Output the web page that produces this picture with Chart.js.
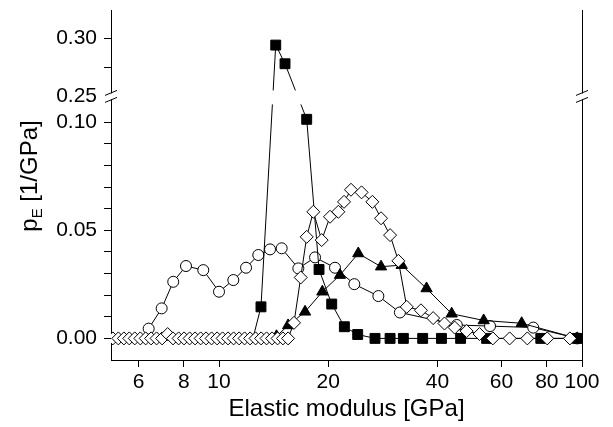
<!DOCTYPE html>
<html>
<head>
<meta charset="utf-8">
<script src="https://cdn.jsdelivr.net/npm/chart.js@4.4.0/dist/chart.umd.min.js"></script>
<style>
  html, body { margin: 0; padding: 0; background: #fff; }
  #wrap { width: 613px; height: 427px; }
</style>
</head>
<body>
<div id="wrap"><canvas id="chart"></canvas></div>
<script>
/* ---------- Data ---------- */
const xTickValues = [6, 8, 10, 20, 40, 60, 80, 100];
const yTickValues = [0, 0.01, 0.02, 0.03, 0.04, 0.05, 0.06, 0.07, 0.08, 0.09, 0.10, 0.25, 0.275, 0.30];
const yTickText   = ["0.00", "", "", "", "", "0.05", "", "", "", "", "0.10", "0.25", "", "0.30"];

// filled squares
const squareE = [12.4, 13.05, 14.33, 15.2, 17.44, 18.86, 20.44, 22.15, 24.1, 26.9, 29.6, 32.2, 36.4, 41.0, 46.3, 54.6, 77.0, 97.0];
const squareP = [0, 0.0146, 0.294, 0.278, 0.1014, 0.0319, 0.0159, 0.0054, 0.0018, 0, 0, 0, 0, 0, 0, 0, 0, 0];

// open circles
const circleE = [6.4, 6.95, 7.48, 8.11, 9.05, 10.0, 10.95, 11.87, 12.83, 13.82, 14.88, 16.54, 18.39, 20.87, 23.59, 27.48, 31.5, 45.2, 55.8, 73.4, 97.0];
const circleP = [0.0045, 0.0139, 0.0262, 0.0335, 0.0316, 0.0216, 0.027, 0.0327, 0.0386, 0.0412, 0.0417, 0.0324, 0.0375, 0.0327, 0.0251, 0.0196, 0.012, 0.0062, 0.0057, 0.005, 0];

// open diamonds
const diamondE = [5.1, 5.28, 5.47, 5.66, 5.86, 6.07, 6.28, 6.5, 6.73, 6.97, 7.22, 7.47, 7.74, 8.01, 8.3, 8.59, 8.9, 9.21, 9.54, 9.88,
                  10.23, 10.59, 10.97, 11.36, 11.76, 12.18, 12.61, 13.06, 13.52, 14.0, 14.5, 15.0, 15.5,
                  16.09, 16.79, 17.44, 18.19, 19.18, 20.22, 21.32, 22.1, 23.1, 24.7, 26.45, 27.95, 29.6, 31.2, 32.9,
                  36.0, 38.9, 41.8, 44.6, 48.1, 52.2, 56.8, 63.2, 70.7, 80.2, 92.6];
const diamondP = [0, 0, 0, 0, 0, 0, 0, 0, 0, 0, 0.002, 0, 0, 0, 0, 0, 0, 0, 0, 0,
                  0, 0, 0, 0, 0, 0, 0, 0, 0, 0, 0, 0, 0,
                  0.0072, 0.0282, 0.047, 0.0586, 0.0455, 0.0563, 0.0586, 0.0632, 0.0688, 0.0676, 0.0632, 0.0556, 0.0478, 0.0359, 0.0146,
                  0.013, 0.0094, 0.0069, 0.005, 0.0034, 0.002, 0, 0, 0, 0, 0];

// filled triangles
const triangleE = [14.4, 15.5, 17.26, 19.26, 21.54, 24.19, 27.95, 31.86, 37.3, 43.75, 53.6, 68.2, 97.0];
const triangleP = [0.001, 0.006, 0.0123, 0.0216, 0.0293, 0.0393, 0.0332, 0.0339, 0.0231, 0.0114, 0.0083, 0.007, 0];

/* ---------- Broken y axis: lower part 0..0.112, upper part from 0.25 compressed ---------- */
const BREAK_LOW = 0.112, BREAK_HIGH = 0.25, UPPER_RATIO = 0.54;
function toU(v){ return v <= BREAK_LOW ? v : BREAK_LOW + (v - BREAK_HIGH) * UPPER_RATIO; }
const pts = (xs, ys) => xs.map((x, i) => ({ x, y: toU(ys[i]) }));

const FONT = "'Liberation Sans', Arial, Helvetica, sans-serif";

// keep the plot box where it is in the figure (no label overhang padding)
function noPad(s){ s.paddingTop = 0; s.paddingBottom = 0; s.paddingLeft = 0; s.paddingRight = 0; }

/* ---------- Extras: titles, right spine, axis breaks ---------- */
const decor = {
  id: "decor",
  afterDraw(c){
    const g = c.ctx, a = c.chartArea;
    const yBreak = c.scales.y.getPixelForValue(BREAK_LOW);
    g.save();
    // gap in the data lines at the break
    g.fillStyle = "#fff";
    g.fillRect(a.left + 1, yBreak - 6, a.right - a.left - 2, 14);
    // right spine
    g.strokeStyle = "#000"; g.lineWidth = 1;
    g.beginPath(); g.moveTo(a.right + 0.5, a.top); g.lineTo(a.right + 0.5, a.bottom); g.stroke();
    // break marks on both spines
    [a.left, a.right].forEach(x => {
      g.fillStyle = "#fff";
      g.fillRect(x - 8, yBreak - 3, 12, 6);
      g.beginPath();
      g.moveTo(x - 6, yBreak - 1); g.lineTo(x + 6, yBreak - 6);
      g.moveTo(x - 6, yBreak + 6); g.lineTo(x + 6, yBreak + 1);
      g.stroke();
    });
    // x title
    g.fillStyle = "#000";
    g.font = `24px ${FONT}`;
    g.textAlign = "center"; g.textBaseline = "middle";
    g.fillText("Elastic modulus [GPa]", (a.left + a.right) / 2, 409);
    // y title with subscript
    g.translate(29, 176);
    g.rotate(-Math.PI / 2);
    g.textAlign = "left"; g.textBaseline = "alphabetic";
    const big = `24px ${FONT}`, small = `15px ${FONT}`;
    g.font = big;   const wP = g.measureText("p").width;
    g.font = small; const wE = g.measureText("E").width;
    g.font = big;   const wR = g.measureText(" [1/GPa]").width;
    let x0 = -(wP + wE + wR) / 2;
    g.fillText("p", x0, 8);
    g.font = small; g.fillText("E", x0 + wP, 13);
    g.font = big;   g.fillText(" [1/GPa]", x0 + wP + wE, 8);
    g.restore();
  }
};

const common = { borderColor: "#000", borderWidth: 1, pointBorderColor: "#000", pointBorderWidth: 1, tension: 0, pointHoverRadius: 6 };

new Chart(document.getElementById("chart"), {
  type: "line",
  data: {
    datasets: [
      { ...common, label: "diamonds", data: pts(diamondE, diamondP), pointStyle: "rectRot", pointRadius: 6.5, pointBackgroundColor: "#fff" },
      { ...common, label: "triangles", data: pts(triangleE, triangleP), pointStyle: "triangle", pointRadius: 6.5, pointBackgroundColor: "#000" },
      { ...common, label: "squares", data: pts(squareE, squareP), pointStyle: "rect",
        pointRadius: ctx => ctx.dataIndex === 0 ? 0 : 7, pointBackgroundColor: "#000" },
      { ...common, label: "circles", data: pts(circleE, circleP), pointStyle: "circle", pointRadius: 5.5, pointBackgroundColor: "#fff" }
    ]
  },
  options: {
    responsive: true,
    maintainAspectRatio: false,
    animation: false,
    layout: { padding: { top: 10, right: 31, left: 0, bottom: 0 } },
    plugins: { legend: { display: false }, tooltip: { enabled: false } },
    scales: {
      x: {
        type: "logarithmic", min: 5.04, max: 100,
        afterBuildTicks: s => { s.ticks = xTickValues.map(v => ({ value: v })); },
        afterFit: s => { s.height = 67; noPad(s); },
        ticks: { callback: v => String(v), color: "#000", font: { family: FONT, size: 21 }, maxRotation: 0, autoSkip: false, padding: 3 },
        grid: { drawOnChartArea: false, drawTicks: true, tickLength: 7, color: "#000", lineWidth: 1 },
        border: { display: true, color: "#000", width: 1 }
      },
      y: {
        type: "linear", min: -0.01, max: 0.152,
        afterBuildTicks: s => { s.ticks = yTickValues.map(v => ({ value: toU(v) })); },
        afterFit: s => { s.width = 111; noPad(s); },
        ticks: { callback: (v, i) => yTickText[i], color: "#000", font: { family: FONT, size: 21 }, autoSkip: false, padding: 7 },
        grid: { drawOnChartArea: false, drawTicks: true, tickLength: 7, color: "#000", lineWidth: 1 },
        border: { display: true, color: "#000", width: 1 }
      }
    }
  },
  plugins: [decor]
});
</script>
</body>
</html>
